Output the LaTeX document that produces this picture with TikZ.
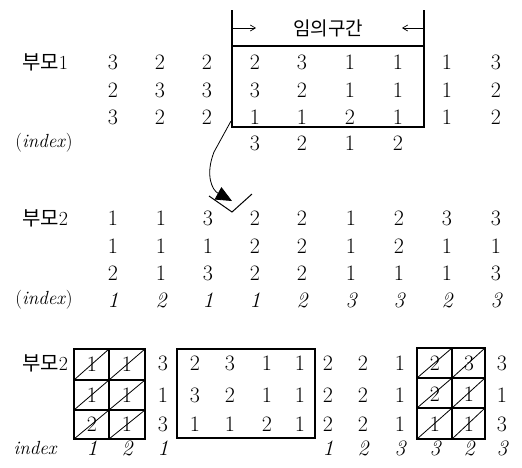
\documentclass[tikz,border=0pt]{standalone}
\usepackage{fontspec}
\newfontfamily\kr{Noto Sans CJK KR}
\usetikzlibrary{arrows.meta}
\begin{document}
\begin{tikzpicture}[x=1pt,y=-1pt,
  num/.style={inner sep=0pt,font=\fontsize{22}{26}\selectfont},
  idx/.style={inner sep=0pt,font=\fontsize{22}{26}\selectfont\itshape},
  lab/.style={inner sep=0pt,font=\fontsize{20}{24}\selectfont},
  frame/.style={line width=1.1pt},
  cell/.style={line width=1.1pt}]
\useasboundingbox (0,0) rectangle (522,467);
% ---------- top: parent 1 ----------
\node[lab] (p1) at (45,62) {{\kr 부모}1};
\node[lab,font=\fontsize{19}{22}\selectfont] (i1) at (44,143) {(\textit{index})};
\foreach \r/\yy/\vals in {1/62/{3,2,2,2,3,1,1,1,3},2/90/{2,3,3,3,2,1,1,1,2},3/117/{3,2,2,1,1,2,1,1,2}}{
  \foreach \v [count=\c] in \vals {
    \pgfmathsetmacro\xx{{113,160,207,255,302,350,398,447,496}[\c-1]}
    \node[num] (t\r-\c) at (\xx,\yy) {\v};
  }
}
\foreach \v/\xx [count=\c] in {3/255,2/302,1/350,2/398}{
  \node[num] (ti\c) at (\xx,143) {\v};
}
\coordinate (bl) at (232,127);
\coordinate (br) at (424,127);
\coordinate (tl) at (232,46);
\coordinate (tr) at (424,46);
\coordinate (ul) at (232,10);
\coordinate (ur) at (424,10);
\draw[frame] (ul) -- (bl) -- (br) -- (ur);
\draw[frame] (tl) -- (tr);
\node[inner sep=0pt,font=\fontsize{19}{22}\selectfont\kr] (rng) at (328,28) {임의구간};
\coordinate (al) at (232,28);
\coordinate (ar) at (424,28);
\coordinate (ale) at (256,28);
\coordinate (are) at (402,28);
\draw[line width=0.7pt,-{Straight Barb[length=5pt,width=6pt]}] (al) -- (ale);
\draw[line width=0.7pt,-{Straight Barb[length=5pt,width=6pt]}] (ar) -- (are);
% curved arrow
\coordinate (cs) at (231,121);
\coordinate (ce) at (232,201);
\draw[line width=0.8pt,-{Triangle[length=16pt,width=14pt]}] (cs) -- (214,152) .. controls (205,175) and (212,190) .. (ce);
% cut mark
\coordinate (v1) at (209,196);
\coordinate (v2) at (232,212);
\coordinate (v3) at (252,194);
\draw[line width=1pt] (v1) -- (v2) -- (v3);
% ---------- middle: parent 2 ----------
\node[lab] (p2) at (45,218) {{\kr 부모}2};
\node[lab,font=\fontsize{19}{22}\selectfont] (i2) at (44,300) {(\textit{index})};
\foreach \r/\yy/\vals in {1/218/{1,1,3,2,2,1,2,3,3},2/246/{1,1,1,2,2,1,2,1,1},3/273/{2,1,3,2,2,1,1,1,3}}{
  \foreach \v [count=\c] in \vals {
    \pgfmathsetmacro\xx{{113,161,208,255,302,351,399,447,496}[\c-1]}
    \node[num] (m\r-\c) at (\xx,\yy) {\v};
  }
}
\foreach \v [count=\c] in {1,2,1,1,2,3,3,2,3}{
  \pgfmathsetmacro\xx{{113,161,208,255,302,351,399,447,496}[\c-1]}
  \node[idx] (mi\c) at (\xx,300) {\v};
}
% ---------- bottom: result ----------
\node[lab] (p3) at (45,363) {{\kr 부모}2};
\node[idx,font=\fontsize{19}{22}\selectfont\itshape] (i3) at (35,448) {index};
% left crossed grid
\foreach \r/\ya/\yb in {1/349/380,2/380/410,3/410/439}{
  \foreach \c/\xa/\xb in {1/74/109,2/109/145}{
    \draw[cell] (\xa,\ya) rectangle (\xb,\yb);
    \draw[line width=0.8pt] (\xa,\yb) -- (\xb,\ya);
  }
}
\foreach \r/\yy/\vals in {1/364/{1,1},2/395/{1,1},3/424/{2,1}}{
  \foreach \v/\xx [count=\c] in \vals {
    \pgfmathsetmacro\xp{{92,127}[\c-1]}
    \node[num] (bl\r-\c) at (\xp,\yy) {\v};
  }
}
% right crossed grid
\foreach \r/\ya/\yb in {1/348/378,2/378/408,3/408/439}{
  \foreach \c/\xa/\xb in {1/417/452,2/452/485}{
    \draw[cell] (\xa,\ya) rectangle (\xb,\yb);
    \draw[line width=0.8pt] (\xa,\yb) -- (\xb,\ya);
  }
}
\foreach \r/\yy/\vals in {1/363/{2,3},2/394/{2,1},3/424/{1,1}}{
  \foreach \v [count=\c] in \vals {
    \pgfmathsetmacro\xp{{435,469}[\c-1]}
    \node[num] (br\r-\c) at (\xp,\yy) {\v};
  }
}
% middle box
\draw[frame] (177,349) rectangle (315,438);
\foreach \r/\yy/\vals in {1/363/{3,2,3,1,1,2,2,1,3},2/395/{1,3,2,1,1,2,2,1,1},3/424/{3,1,1,2,1,2,2,1,3}}{
  \foreach \v [count=\c] in \vals {
    \pgfmathsetmacro\xx{{163,195,230,267,300,328,363,400,502}[\c-1]}
    \node[num] (b\r-\c) at (\xx,\yy) {\v};
  }
}
\foreach \v/\xx [count=\c] in {1/92,2/127,1/163,1/328,2/363,3/400,3/435,2/469,3/502}{
  \node[idx] (bi\c) at (\xx,448) {\v};
}
\end{tikzpicture}
\end{document}
